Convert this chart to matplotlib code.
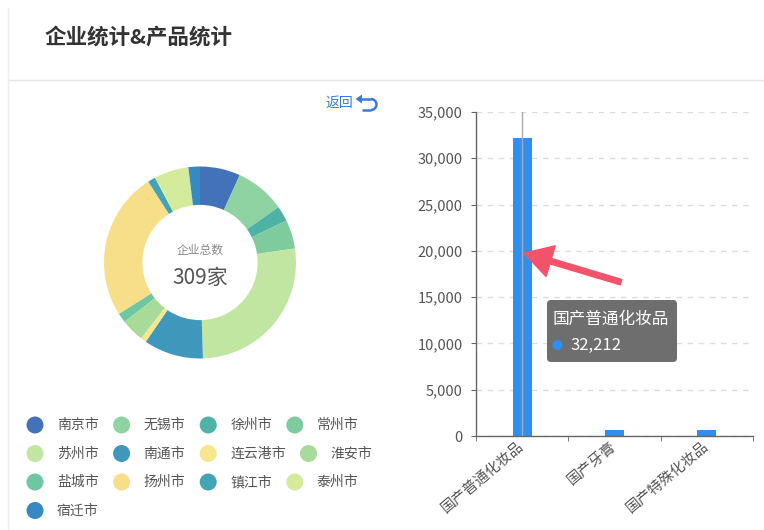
import matplotlib
matplotlib.use('Agg')
import matplotlib.pyplot as plt
from matplotlib.patches import Circle, FancyBboxPatch, Polygon, Arc
from matplotlib.ticker import FuncFormatter

plt.rcParams['font.family'] = ['Noto Sans CJK SC', 'DejaVu Sans']

# ---------------- data ----------------
cities = ['南京市', '无锡市', '徐州市', '常州市', '苏州市', '南通市', '连云港市',
          '淮安市', '盐城市', '扬州市', '镇江市', '泰州市', '宿迁市']
city_counts = [21, 26, 8, 15, 83, 31, 3, 12, 5, 77, 4, 18, 6]
city_colors = ['#4472b8', '#8fd3a1', '#4fb2a6', '#7ecb9e', '#c1e6a2', '#3f98bb',
               '#f6e68c', '#a8db9a', '#6ec7a0', '#f7de88', '#44a4b6', '#d3eb9b',
               '#3689c3']
center_title = '企业总数'

products = ['国产普通化妆品', '国产牙膏', '国产特殊化妆品']
product_counts = [32212, 640, 660]
y_ticks = [0, 5000, 10000, 15000, 20000, 25000, 30000, 35000]

page_title = '企业统计&产品统计'
back_label = '返回'

# ---------------- layout ----------------
W, H = 764, 530
fig = plt.figure(figsize=(W / 100, H / 100), dpi=100)
fig.patch.set_facecolor('white')


def fr(x0, y0, x1, y1):
    return [x0 / W, 1 - y1 / H, (x1 - x0) / W, (y1 - y0) / H]


BAR_BLUE = '#2f8ff0'

# donut
ax_pie = fig.add_axes(fr(104, 166.5, 296, 358.5))
ax_pie.pie(city_counts, colors=city_colors, startangle=90, counterclock=False,
           radius=1, wedgeprops=dict(width=0.4, linewidth=0))
ax_pie.set_xlim(-1, 1)
ax_pie.set_ylim(-1, 1)
ax_pie.axis('off')
ax_pie.text(0, 0.13, center_title, ha='center', va='center', fontsize=8.5,
            color='#888888')
ax_pie.text(0, -0.16, f'{sum(city_counts)}家', ha='center', va='center',
            fontsize=15, color='#555555')

# bar chart
ax_bar = fig.add_axes(fr(476, 112, 753, 436))
xs = list(range(len(products)))
ax_bar.bar(xs, product_counts, width=0.205, color=BAR_BLUE, zorder=2)
ax_bar.set_xlim(-0.5, len(products) - 0.5)
ax_bar.set_ylim(0, y_ticks[-1])
ax_bar.set_yticks(y_ticks)
ax_bar.yaxis.set_major_formatter(FuncFormatter(lambda v, p: f'{int(v):,}'))
ax_bar.yaxis.grid(True, linestyle=(0, (4, 4)), color='#dcdcdc', linewidth=1)
ax_bar.set_axisbelow(True)
for s in ['top', 'right']:
    ax_bar.spines[s].set_visible(False)
for s in ['left', 'bottom']:
    ax_bar.spines[s].set_color('#666666')
    ax_bar.spines[s].set_linewidth(1)
ax_bar.tick_params(axis='y', length=3.6, color='#666666', labelsize=10.5,
                   labelcolor='#555555', pad=6)
ax_bar.set_xticks(xs)
ax_bar.set_xticks([i - 0.5 for i in range(len(products) + 1)], minor=True)
ax_bar.tick_params(axis='x', which='major', length=0, pad=6)
ax_bar.tick_params(axis='x', which='minor', length=3.6, color='#666666')
ax_bar.set_xticklabels(products, rotation=40, ha='right', va='center',
                       rotation_mode='anchor', fontsize=10.5, color='#555555')
ax_bar.axvline(0, color='#aaaaaa', lw=1, zorder=3)

ax_bar.annotate('', xy=(0.02, 19750), xytext=(97, -29), textcoords='offset pixels',
                arrowprops=dict(arrowstyle='simple,head_length=2.0,head_width=2.3,tail_width=0.4',
                                mutation_scale=10, color='#f2536a', shrinkA=0, shrinkB=0),
                zorder=5, annotation_clip=False)

# overlay (pixel coordinates)
ov = fig.add_axes([0, 0, 1, 1], zorder=10)
ov.set_xlim(0, W)
ov.set_ylim(H, 0)
ov.axis('off')
ov.patch.set_alpha(0)

ov.text(45, 37, page_title, fontsize=15.5, fontweight='bold', color='#333333',
        va='center', ha='left')
ov.plot([8, W], [80, 80], color='#e6e6e6', lw=1)
ov.plot([8, 8], [8, H], color='#eeeeee', lw=1)

# back link
BACK_BLUE = '#3a7bd5'
ov.text(326, 103, back_label, fontsize=10, color=BACK_BLUE, va='center', ha='left')
ov.plot([361, 371], [99, 99], color=BACK_BLUE, lw=1.8, solid_capstyle='butt')
ov.plot([362, 371], [110, 110], color=BACK_BLUE, lw=1.8, solid_capstyle='butt')
ov.add_patch(Arc((371, 104.5), 11, 11, theta1=-90, theta2=90, color=BACK_BLUE, lw=1.8))
ov.add_patch(Polygon([[355.5, 99], [362, 94.5], [362, 103.5]], closed=True,
                     color=BACK_BLUE, lw=0))

# legend (flow layout)
lx0, ly0, row_h, per_row = 26.5, 425, 28.5, 4
char_w, marker_d, text_off, gap = 13.7, 17, 30.5, 15
for i, (name, col) in enumerate(zip(cities, city_colors)):
    r, c = divmod(i, per_row)
    if c == 0:
        x = lx0
    y = ly0 + r * row_h
    ov.add_patch(Circle((x + marker_d / 2, y), marker_d / 2, color=col, lw=0))
    ov.text(x + text_off, y, name, fontsize=10, color='#555555', va='center',
            ha='left')
    x += text_off + len(name) * char_w + gap

# tooltip
ov.add_patch(FancyBboxPatch((547, 300), 130, 62,
                            boxstyle='round,pad=0,rounding_size=4',
                            fc='#6e6e6e', ec='none'))
ov.text(553, 319, products[0], fontsize=12, color='white', va='center', ha='left')
ov.add_patch(Circle((557.5, 345), 5, color=BAR_BLUE, lw=0))
ov.text(570, 345, f'{product_counts[0]:,}', fontsize=12, color='white',
        va='center', ha='left')

fig.savefig('out.png', dpi=100)
